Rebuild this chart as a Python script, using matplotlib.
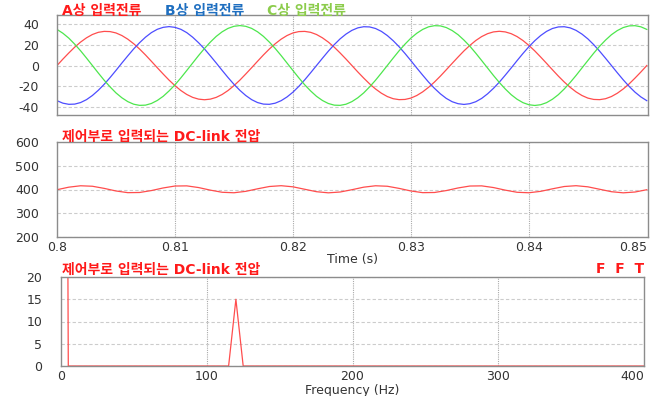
import matplotlib
matplotlib.use('Agg')
import matplotlib.pyplot as plt

plt.rcParams['axes.unicode_minus'] = False

# phase currents, read every 0.5 ms from 0.800 s to 0.850 s
t_i = [0.8 + 0.0005 * k for k in range(101)]

ia = [0, 6.2, 12.1, 17.7, 22.6, 26.7, 29.9, 32.0, 32.9, 32.7, 31.4, 28.9, 25.4, 21.0,
      15.9, 10.2, 4.1, -2.1, -8.2, -14.1, -19.4, -24.1, -27.9, -30.7, -32.4, -33.0,
      -32.4, -30.7, -27.9, -24.1, -19.4, -14.1, -8.2, -2.1, 4.1, 10.2, 15.9, 21.0,
      25.4, 28.9, 31.4, 32.7, 32.9, 32.0, 29.9, 26.7, 22.6, 17.7, 12.1, 6.2, 0,
      -6.2, -12.1, -17.7, -22.6, -26.7, -29.9, -32.0, -32.9, -32.7, -31.4, -28.9,
      -25.4, -21.0, -15.9, -10.2, -4.1, 2.1, 8.2, 14.1, 19.4, 24.1, 27.9, 30.7, 32.4,
      33.0, 32.4, 30.7, 27.9, 24.1, 19.4, 14.1, 8.2, 2.1, -4.1, -10.2, -15.9, -21.0,
      -25.4, -28.9, -31.4, -32.7, -32.9, -32.0, -29.9, -26.7, -22.6, -17.7, -12.1,
      -6.2, 0]
ib = [-33.9, -36.3, -37.4, -37.2, -35.7, -32.9, -28.9, -23.9, -18.1, -11.6, -4.7, 2.4,
      9.3, 16.0, 22.0, 27.3, 31.7, 34.9, 36.8, 37.5, 36.8, 34.9, 31.7, 27.3, 22.0, 16.0,
      9.3, 2.4, -4.7, -11.6, -18.1, -23.9, -28.9, -32.9, -35.7, -37.2, -37.4, -36.3,
      -33.9, -30.3, -25.7, -20.1, -13.8, -7.0, 0, 7.0, 13.8, 20.1, 25.7, 30.3, 33.9,
      36.3, 37.4, 37.2, 35.7, 32.9, 28.9, 23.9, 18.1, 11.6, 4.7, -2.4, -9.3, -16.0,
      -22.0, -27.3, -31.7, -34.9, -36.8, -37.5, -36.8, -34.9, -31.7, -27.3, -22.0,
      -16.0, -9.3, -2.4, 4.7, 11.6, 18.1, 23.9, 28.9, 32.9, 35.7, 37.2, 37.4, 36.3,
      33.9, 30.3, 25.7, 20.1, 13.8, 7.0, 0, -7.0, -13.8, -20.1, -25.7, -30.3, -33.9]
ic = [34.8, 31.1, 26.4, 20.6, 14.2, 7.2, 0, -7.2, -14.2, -20.6, -26.4, -31.1, -34.8,
      -37.3, -38.4, -38.2, -36.6, -33.7, -29.7, -24.5, -18.6, -11.9, -4.8, 2.4, 9.6,
      16.4, 22.6, 28.1, 32.5, 35.8, 37.8, 38.5, 37.8, 35.8, 32.5, 28.1, 22.6, 16.4,
      9.6, 2.4, -4.8, -11.9, -18.6, -24.5, -29.7, -33.7, -36.6, -38.2, -38.4, -37.3,
      -34.8, -31.1, -26.4, -20.6, -14.2, -7.2, 0, 7.2, 14.2, 20.6, 26.4, 31.1, 34.8,
      37.3, 38.4, 38.2, 36.6, 33.7, 29.7, 24.5, 18.6, 11.9, 4.8, -2.4, -9.6, -16.4,
      -22.6, -28.1, -32.5, -35.8, -37.8, -38.5, -37.8, -35.8, -32.5, -28.1, -22.6,
      -16.4, -9.6, -2.4, 4.8, 11.9, 18.6, 24.5, 29.7, 33.7, 36.6, 38.2, 38.4, 37.3, 34.8]

# DC-link voltage, read every 1 ms
t_v = [0.8 + 0.001 * k for k in range(51)]
vdc = [399.1, 409.8, 415.7, 413.7, 404.7, 393.8, 386.7, 387.4, 395.5, 406.5, 414.6,
       415.3, 408.2, 397.3, 388.3, 386.3, 392.2, 402.9, 412.6, 416.0, 411.3, 401.0,
       390.7, 386.0, 389.4,
       399.1, 409.8, 415.7, 413.7, 404.7, 393.8, 386.7, 387.4, 395.5, 406.5, 414.6,
       415.3, 408.2, 397.3, 388.3, 386.3, 392.2, 402.9, 412.6, 416.0, 411.3, 401.0,
       390.7, 386.0, 389.4, 399.1]

# FFT of the DC-link voltage, 5 Hz bins
fft_freq = list(range(0, 405, 5))
fft_peak_freq = [0, 120]
fft_peak_mag = [401, 15]
fft_mag = [fft_peak_mag[fft_peak_freq.index(f)] if f in fft_peak_freq else 0 for f in fft_freq]

time_ticks = [0.8, 0.81, 0.82, 0.83, 0.84, 0.85]
time_labels = ['0.8', '0.81', '0.82', '0.83', '0.84', '0.85']
freq_ticks = [0, 100, 200, 300, 400]

TITLE_FONT = ['DejaVu Sans', 'Noto Sans CJK KR']
W, H = 659, 396

fig = plt.figure(figsize=(W / 100, H / 100), dpi=100)

def box(l, t_, r, b):
    return [l / W, 1 - b / H, (r - l) / W, (b - t_) / H]

ax1 = fig.add_axes(box(57, 15, 648, 115))
ax2 = fig.add_axes(box(57, 142, 648, 237))
ax3 = fig.add_axes(box(61, 277, 644, 366))

def style(ax, pad):
    for s in ax.spines.values():
        s.set_color('#8c8c8c')
        s.set_linewidth(1.0)
    ax.tick_params(length=0, labelsize=9, labelcolor='#333333', pad=pad)
    ax.tick_params(axis='x', pad=3)
    ax.grid(axis='y', color='#cccccc', linestyle=(0, (3, 2)), linewidth=0.8)
    ax.grid(axis='x', color='#aaaaaa', linestyle=(0, (1, 1)), linewidth=0.8)
    ax.set_axisbelow(True)

# phase currents
ax1.plot(t_i, ia, color='#ff4d4d', lw=0.9)
ax1.plot(t_i, ib, color='#4d4dff', lw=0.9)
ax1.plot(t_i, ic, color='#4de64d', lw=0.9)
ax1.set_xlim(0.8, 0.8501)
ax1.set_ylim(-47.7, 48.7)
ax1.set_yticks([-40, -20, 0, 20, 40])
ax1.set_xticks(time_ticks[1:-1])
ax1.set_xticklabels([])
style(ax1, 13)

# DC-link voltage
ax2.plot(t_v, vdc, color='#ff4d4d', lw=0.9)
ax2.set_xlim(0.8, 0.8501)
ax2.set_ylim(200, 600)
ax2.set_yticks([200, 300, 400, 500, 600])
ax2.set_xticks(time_ticks)
ax2.set_xticklabels(time_labels)
ax2.get_xticklabels()[-1].set_ha('right')
style(ax2, 13)
ax2.xaxis.get_gridlines()[0].set_visible(False)
ax2.xaxis.get_gridlines()[-1].set_visible(False)
ax2.set_xlabel('Time (s)', fontsize=9, color='#333333')
ax2.xaxis.set_label_coords(0.5, -0.17)

# FFT
ax3.plot(fft_freq, fft_mag, color='#ff4d4d', lw=0.9)
ax3.set_xlim(0, 400)
ax3.set_ylim(0, 20)
ax3.set_yticks([0, 5, 10, 15, 20])
ax3.set_xticks(freq_ticks)
ax3.get_xticklabels()[-1].set_ha('right')
style(ax3, 13.5)
ax3.xaxis.get_gridlines()[0].set_visible(False)
ax3.xaxis.get_gridlines()[-1].set_visible(False)
ax3.set_xlabel('Frequency (Hz)', fontsize=9, color='#333333')
ax3.xaxis.set_label_coords(0.5, -0.2)

# titles
def label(x, y, s, c, ha='left'):
    fig.text(x / W, 1 - y / H, s, color=c, fontsize=10, fontweight='bold',
             family=TITLE_FONT, ha=ha, va='center')

label(62, 11, 'A상 입력전류', '#ff1a1a')
label(165, 11, 'B상 입력전류', '#1f6fc0')
label(267, 11, 'C상 입력전류', '#8ccc4c')
label(62, 137, '제어부로 입력되는 DC-link 전압', '#ff1a1a')
label(62, 270, '제어부로 입력되는 DC-link 전압', '#ff1a1a')
label(644, 269, 'F  F  T', '#ff1a1a', ha='right')

fig.savefig('out.png', dpi=100)
